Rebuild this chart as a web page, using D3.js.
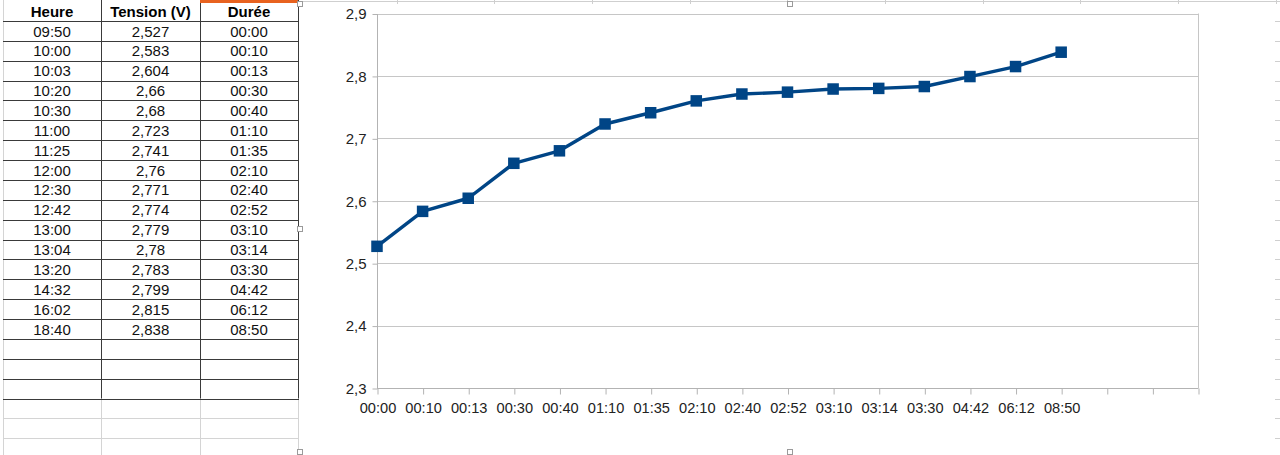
<!DOCTYPE html>
<html><head><meta charset="utf-8">
<script src="https://cdn.jsdelivr.net/npm/d3@7/dist/d3.min.js"></script>
<style>
html,body{margin:0;padding:0;background:#fff;}
svg{display:block;font-family:"Liberation Sans",Arial,sans-serif;}
</style></head>
<body>
<svg id="c" width="1280" height="455"></svg>
<script>
// ---- data ----
const headers = ["Heure", "Tension (V)", "Durée"];
const heures = ["09:50","10:00","10:03","10:20","10:30","11:00","11:25","12:00","12:30","12:42","13:00","13:04","13:20","14:32","16:02","18:40"];
const tension = [2.527,2.583,2.604,2.66,2.68,2.723,2.741,2.76,2.771,2.774,2.779,2.78,2.783,2.799,2.815,2.838];
const durees = ["00:00","00:10","00:13","00:30","00:40","01:10","01:35","02:10","02:40","02:52","03:10","03:14","03:30","04:42","06:12","08:50"];
const emptyCats = ["", " ", "  "];
const yTicks = [2.3, 2.4, 2.5, 2.6, 2.7, 2.8, 2.9];

const fr = v => String(v).replace(".", ",");
const svg = d3.select("#c");
svg.append("rect").attr("width",1280).attr("height",455).attr("fill","#fff");

// ---- spreadsheet table ----
const colX = [3, 101, 200, 298];
const headH = 21, rowH = 19.87;
const nRows = 19;
const tbl = svg.append("g");
const lightGrid = "#d4d4d4", dark = "#3a3a3a";
const lastY = headH + nRows * rowH;
for (let yy = lastY + rowH; yy < 455; yy += rowH) {
  tbl.append("line").attr("x1",3).attr("x2",298).attr("y1",Math.round(yy)+0.5).attr("y2",Math.round(yy)+0.5).attr("stroke",lightGrid);
}
colX.forEach(cx => tbl.append("line").attr("x1",cx+0.5).attr("x2",cx+0.5).attr("y1",lastY).attr("y2",455).attr("stroke",lightGrid));
tbl.append("line").attr("x1",3.5).attr("x2",3.5).attr("y1",0).attr("y2",455).attr("stroke",lightGrid);
for (let i = 0; i <= nRows; i++) {
  const yy = Math.round(headH + i * rowH) + 0.5;
  tbl.append("line").attr("x1",3).attr("x2",299).attr("y1",yy).attr("y2",yy).attr("stroke",dark).attr("stroke-width",1);
}
colX.slice(1).forEach(cx => tbl.append("line").attr("x1",cx+0.5).attr("x2",cx+0.5).attr("y1",0).attr("y2",lastY).attr("stroke",dark));
tbl.append("rect").attr("x",200).attr("y",0).attr("width",98).attr("height",3).attr("fill","#e8621f");
headers.forEach((h, j) => {
  tbl.append("text").attr("x",(colX[j]+colX[j+1])/2).attr("y",17)
    .attr("text-anchor","middle").attr("font-size",15).attr("font-weight","bold").attr("fill","#000").text(h);
});
const rows = heures.map((h, i) => [h, fr(tension[i]), durees[i]]);
rows.forEach((r, i) => {
  const yb = headH + i * rowH + 15.5;
  r.forEach((v, j) => {
    tbl.append("text").attr("x",(colX[j]+colX[j+1])/2).attr("y",yb)
      .attr("text-anchor","middle").attr("font-size",15).attr("fill","#111").text(v);
  });
});

// ---- chart area ----
const ch = svg.append("g");
ch.append("rect").attr("x",301).attr("y",3).attr("width",979).attr("height",452).attr("fill","#fff");
ch.append("line").attr("x1",300).attr("x2",1280).attr("y1",1.5).attr("y2",1.5).attr("stroke","#cfcfcf");
[397, 494, 592, 690, 787, 885, 983, 1080, 1178, 1276].forEach(cx =>
  ch.append("line").attr("x1",cx+0.5).attr("x2",cx+0.5).attr("y1",0).attr("y2",4).attr("stroke","#cfcfcf"));
for (let yy = 21; yy < 455; yy += rowH) {
  ch.append("line").attr("x1",1275).attr("x2",1280).attr("y1",Math.round(yy)+0.5).attr("y2",Math.round(yy)+0.5).attr("stroke","#cfcfcf");
}

const L = 377, R = 1198, T = 13.5, B = 388;
const x = d3.scalePoint().domain(durees.concat(emptyCats)).range([L, R]);
const y = d3.scaleLinear().domain([2.3, 2.9]).range([B, T]);

const gridCol = "#c6c6c6", axisCol = "#b3b3b3";
ch.append("g").selectAll("line").data(yTicks).join("line")
  .attr("x1",L).attr("x2",R).attr("y1",d=>Math.round(y(d))+0.5).attr("y2",d=>Math.round(y(d))+0.5)
  .attr("stroke",gridCol);
ch.append("line").attr("x1",R+0.5).attr("x2",R+0.5).attr("y1",y(2.9)).attr("y2",B).attr("stroke",gridCol);

const yAxis = ch.append("g").attr("transform",`translate(${L+0.5},0.5)`)
  .call(d3.axisLeft(y).tickValues(yTicks).tickSize(5).tickPadding(6).tickFormat(d => d.toFixed(1).replace(".", ",")));
yAxis.select(".domain").attr("stroke",axisCol).attr("d",`M0,${y(2.9)}V${B}`);
yAxis.selectAll(".tick line").attr("stroke",axisCol);
yAxis.selectAll(".tick text").attr("font-size",15).attr("fill","#222").attr("font-family","Liberation Sans, Arial, sans-serif");

const xAxis = ch.append("g").attr("transform",`translate(0.5,${Math.round(B)+0.5})`)
  .call(d3.axisBottom(x).tickSize(6).tickPadding(8).tickFormat(d => d.trim()));
xAxis.select(".domain").attr("stroke",axisCol).attr("d",`M${L},0H${R}`);
xAxis.selectAll(".tick line").attr("stroke",axisCol);
xAxis.selectAll(".tick text").attr("font-size",14.6).attr("fill","#222").attr("font-family","Liberation Sans, Arial, sans-serif");

const pts = durees.map((d, i) => [x(d), y(tension[i])]);
ch.append("path").attr("d", d3.line()(pts)).attr("fill","none")
  .attr("stroke","#004586").attr("stroke-width",3.4).attr("stroke-linejoin","round");
ch.append("g").selectAll("rect").data(pts).join("rect")
  .attr("x",d=>d[0]-5.75).attr("y",d=>d[1]-5.75).attr("width",11.5).attr("height",11.5).attr("fill","#004586");

[[300,4],[790,4],[300,229],[300,452],[790,452]].forEach(([hx,hy]) =>
  svg.append("rect").attr("x",hx-2.5).attr("y",hy-2.5).attr("width",5).attr("height",5)
    .attr("fill","#fff").attr("stroke","#9a9a9a").attr("stroke-width",1));
</script>
</body></html>
